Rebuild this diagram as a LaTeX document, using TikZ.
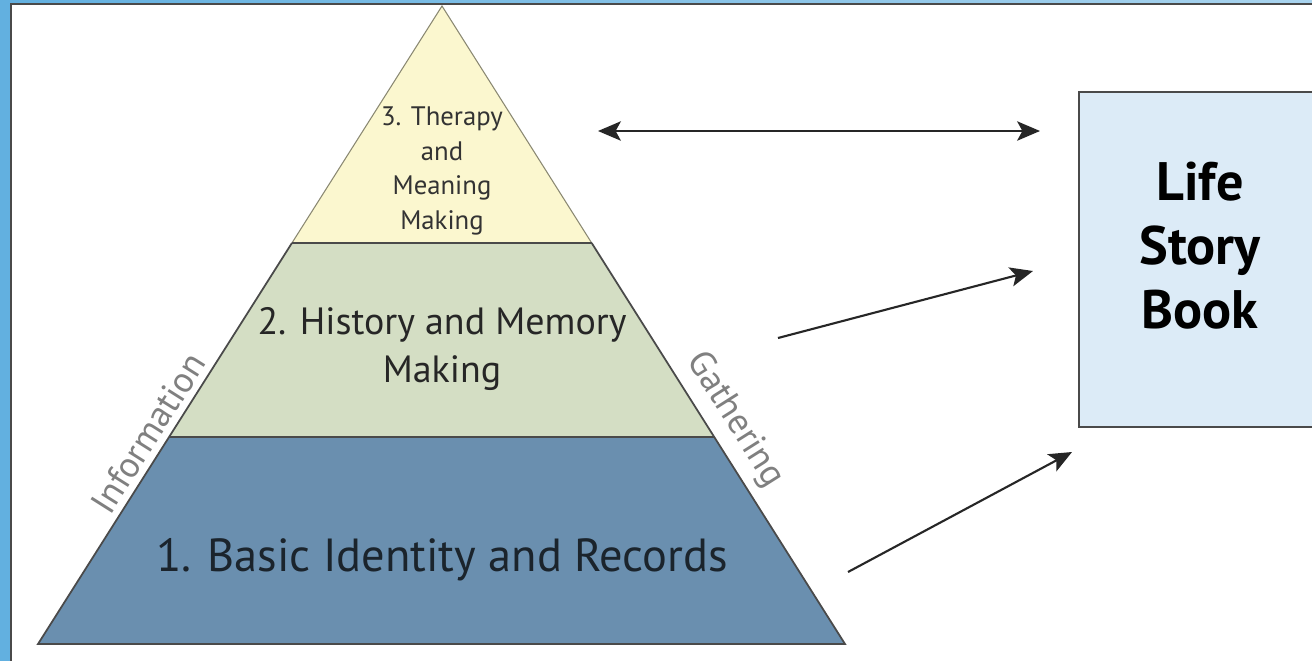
\documentclass[tikz,border=0pt]{standalone}
\usepackage{fontspec}
\setmainfont{PT Sans}
\usetikzlibrary{%
  arrows.meta,
  calc
}

\definecolor{frameblue}{HTML}{62B0E0}
\definecolor{levelthree}{HTML}{FBF7CF}
\definecolor{leveltwo}{HTML}{D4DEC4}
\definecolor{levelone}{HTML}{6A8FAF}
\definecolor{bookblue}{HTML}{DCEBF7}
\definecolor{edgegray}{HTML}{4A4A4A}

\tikzset{
  levelline/.style={draw=edgegray, line width=0.5pt},
  sidelabel/.style={text=gray, font=\fontsize{10.3}{12}\selectfont},
  linkarrow/.style={>={Stealth[length=6.5pt,width=5.5pt,inset=1.5pt]}, line width=0.6pt, black!85}
}

\begin{document}
\begin{tikzpicture}[x=0.01cm, y=-0.01cm]
    \useasboundingbox (0,0) rectangle (1312,660);

    %Frame
    \shade[left color=frameblue, right color=frameblue!55] (0,0) rectangle (1312,660);
    \draw[fill=white, draw=edgegray, line width=0.6pt] (11,4) rectangle (1330,680);

    %Pyramid corners
    \coordinate (apex) at (442,6);
    \coordinate (bl) at (38,644);
    \coordinate (br) at (845,644);
    \coordinate (l3) at ($(apex)!0.3715!(bl)$);
    \coordinate (r3) at ($(apex)!0.3715!(br)$);
    \coordinate (l2) at ($(apex)!0.6755!(bl)$);
    \coordinate (r2) at ($(apex)!0.6755!(br)$);

    %Levels
    \fill[levelone] (l2) -- (r2) -- (br) -- (bl) -- cycle;
    \fill[leveltwo] (l3) -- (r3) -- (r2) -- (l2) -- cycle;
    \fill[levelthree] (apex) -- (r3) -- (l3) -- cycle;
    \draw[draw=levelthree!55!black, line width=0.3pt] (l3) -- (apex) -- (r3);
    \draw[levelline] (l3) -- (r3);
    \draw[levelline] (l2) -- (r2);
    \draw[levelline] (l3) -- (bl) -- (br) -- (r3);

    %Level texts
    \node[align=center, text=black!80, font=\fontsize{7.6}{9.9}\selectfont] (therapy) at (442,171) {3. Therapy\\and\\Meaning\\Making};
    \node[align=center, text=black!85, font=\fontsize{10.8}{13.7}\selectfont] (history) at (442,349) {2. History and Memory\\Making};
    \node[text=black!75!levelone, font=\fontsize{13.2}{15}\selectfont] (identity) at (442,560) {1. Basic Identity and Records};

    %Side labels
    \node[sidelabel, rotate=57.7] (information) at (148,433) {Information};
    \node[sidelabel, rotate=-57.7] (gathering) at (735,420) {Gathering};

    %Book
    \node[draw=edgegray, line width=0.6pt, fill=bookblue, minimum width=2.42cm, minimum height=3.35cm] (book) at (1200,259.5) {};
    \node[align=center, font=\bfseries\fontsize{15.4}{18.2}\selectfont] (booktitle) at (1200,246) {Life\\Story\\Book};

    %Arrows
    \coordinate (meaningout) at (598,131);
    \coordinate (meaningin) at (1040,131);
    \coordinate (memoryout) at (778,338);
    \coordinate (memoryin) at (1033,271);
    \coordinate (recordsout) at (848,572);
    \coordinate (recordsin) at (1072,452);
    \draw[linkarrow, <->] (meaningout) -- (meaningin);
    \draw[linkarrow, ->] (memoryout) -- (memoryin);
    \draw[linkarrow, ->] (recordsout) -- (recordsin);

\end{tikzpicture}
\end{document}
